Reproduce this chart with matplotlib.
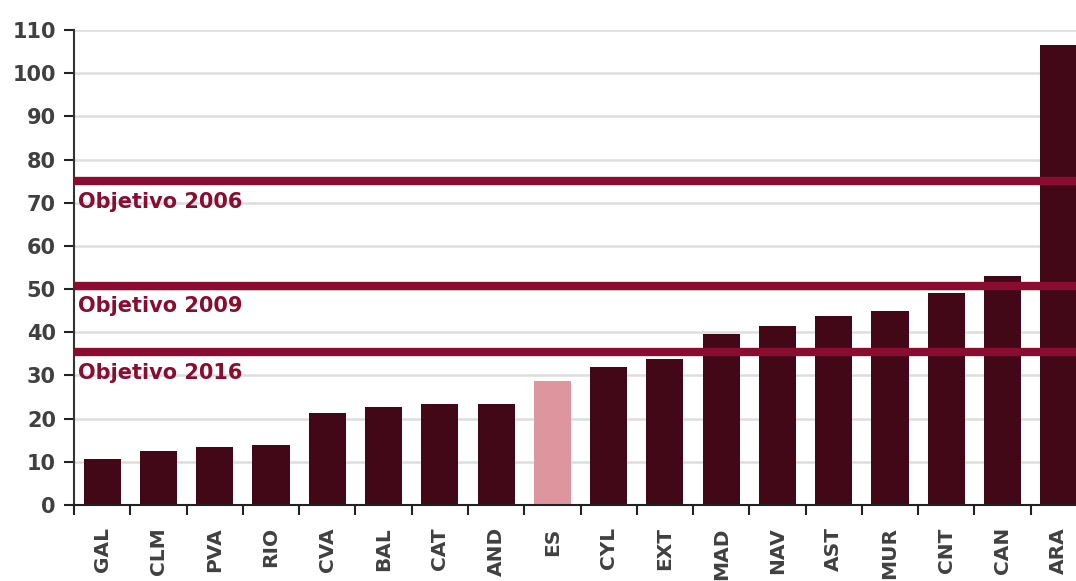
import matplotlib.pyplot as plt

regions = ['GAL', 'CLM', 'PVA', 'RIO', 'CVA', 'BAL', 'CAT', 'AND', 'ES', 'CYL',
           'EXT', 'MAD', 'NAV', 'AST', 'MUR', 'CNT', 'CAN', 'ARA']
values = [10.6, 12.4, 13.4, 13.8, 21.4, 22.7, 23.3, 23.3, 28.7, 32.0,
          33.8, 39.6, 41.4, 43.7, 45.0, 49.1, 53.0, 106.5]
targets = [75.0, 50.8, 35.4]
target_labels = ['Objetivo 2006', 'Objetivo 2009', 'Objetivo 2016']

dark = '#430817'
pink = '#df959e'
line_col = '#8a0c30'
text_col = '#404040'

plt.rcParams['font.family'] = ['DejaVu Sans']

fig = plt.figure(figsize=(10.76, 5.81), dpi=100)
ax = fig.add_axes([74 / 1076, 76 / 581, 1013 / 1076, 475 / 581])

colors = [pink if r == 'ES' else dark for r in regions]
ax.bar(range(len(regions)), values, width=0.66, color=colors, zorder=2)

for t, lab in zip(targets, target_labels):
    ax.axhline(t, color=line_col, lw=6, zorder=3)
    ax.text(0.004, t - 2.5, lab, color=line_col, fontsize=15, fontweight='bold',
            va='top', ha='left', zorder=4, transform=ax.get_yaxis_transform())

ax.set_xlim(-0.5, len(regions) - 0.5)
ax.set_ylim(0, 110)
ax.set_yticks(range(0, 111, 10))
ax.grid(axis='y', color='#dddddd', lw=1.8, zorder=0)

ax.set_xticks([i + 0.5 for i in range(-1, len(regions))], minor=False)
ax.set_xticklabels([])
ax.set_xticks(range(len(regions)), minor=True)
ax.set_xticklabels(regions, minor=True, rotation=90, fontsize=14.5, fontweight='bold',
                   color=text_col)
ax.tick_params(axis='x', which='major', length=7, width=1.5, color='#222222')
ax.tick_params(axis='x', which='minor', length=0, pad=16)
ax.tick_params(axis='y', length=7, width=1.5, color='#222222', labelsize=15,
               labelcolor=text_col, pad=6)
for lbl in ax.get_yticklabels():
    lbl.set_fontweight('bold')

ax.spines['top'].set_visible(False)
ax.spines['right'].set_visible(False)
ax.spines['left'].set_color('#333333')
ax.spines['left'].set_linewidth(1.5)
ax.spines['bottom'].set_color('#222222')
ax.spines['bottom'].set_linewidth(1.5)

fig.savefig('out.png', dpi=100)
